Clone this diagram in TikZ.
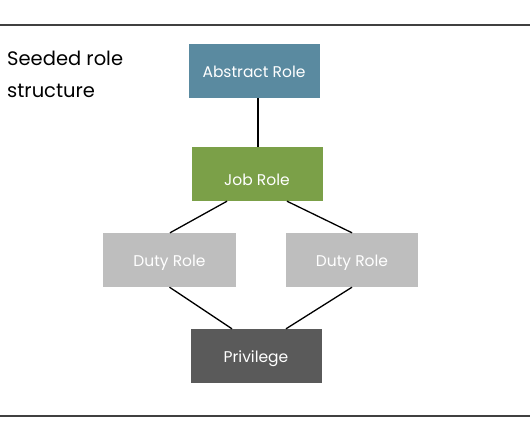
\documentclass[tikz,border=0pt]{standalone}
\usepackage{fontspec}
\setmainfont{Poppins}
\definecolor{abscol}{HTML}{5A8AA0}
\definecolor{jobcol}{HTML}{7BA048}
\definecolor{dutycol}{HTML}{BEBEBE}
\definecolor{privcol}{HTML}{5A5A5A}
\begin{document}
\begin{tikzpicture}[x=1pt,y=-1pt,
  rolebox/.style={draw=none,minimum width=131pt,minimum height=54pt,inner sep=0pt,text=white,font=\fontsize{15.5}{17}\selectfont,text height=13pt,text depth=0pt},
  conn/.style={line width=1.3pt,black}]
\useasboundingbox (0,0) rectangle (530,442);
\fill[white] (0,0) rectangle (530,442);
\coordinate (tl) at (0,25); \coordinate (tr) at (530,25);
\coordinate (bl) at (0,416); \coordinate (br) at (530,416);
\draw[line width=1.5pt,black!75] (tl) -- (tr);
\draw[line width=1.5pt,black!75] (bl) -- (br);
\node[anchor=base west,align=left,inner sep=0pt,font=\fontsize{19.5}{32}\selectfont] (title) at (7,97) {Seeded role\\structure};
\node[rolebox,fill=abscol] (abs) at (254,71) {Abstract Role};
\node[rolebox,fill=jobcol,text height=22pt] (job) at (257,174) {Job Role};
\node[rolebox,fill=dutycol,minimum width=133pt] (dl) at (169.5,260) {Duty Role};
\node[rolebox,fill=dutycol,minimum width=132pt] (dr) at (352,260) {Duty Role};
\node[rolebox,fill=privcol] (priv) at (256,356) {Privilege};
\draw[conn] (abs.south -| 258,0) -- (job.north -| 258,0);
\draw[conn] ([xshift=-30pt]job.south) -- ([xshift=0.5pt]dl.north);
\draw[conn] ([xshift=30pt]job.south) -- (dr.north);
\draw[conn] (dl.south) -- ([xshift=-24pt]priv.north);
\draw[conn] (dr.south) -- ([xshift=30pt]priv.north);
\end{tikzpicture}
\end{document}
